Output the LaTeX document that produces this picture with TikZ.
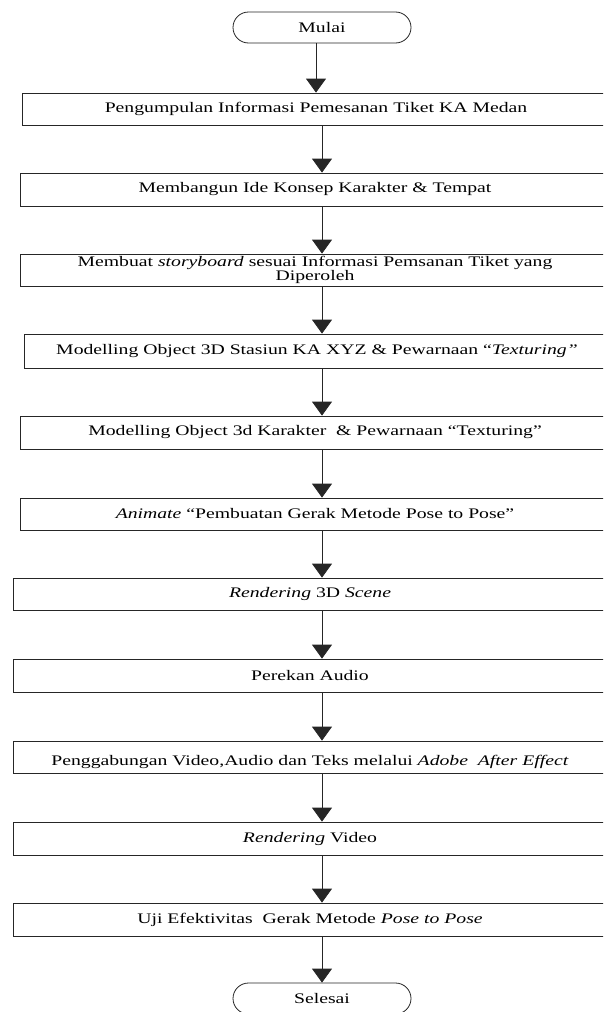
\documentclass[tikz,border=0pt]{standalone}
\usepackage{fontspec}
\setmainfont{Liberation Serif}[FakeStretch=1.35]
\usetikzlibrary{arrows.meta, shapes.misc}
\tikzstyle{proc} = [rectangle, draw=black!85, inner sep=0pt, align=center]
\tikzstyle{term} = [rounded rectangle, draw=black!85, minimum width=178pt, minimum height=31pt, inner sep=0pt]

\begin{document}
\begin{tikzpicture}[
    x=1pt, y=-1pt,
    line width=0.8pt,
    every node/.style={font=\fontsize{14.6}{14}\selectfont},
    box/.style 2 args={proc, minimum width=#1, minimum height=#2},
    arr/.style={draw=black!85, -{Triangle[length=14pt,width=20pt]}}
]
    \clip (0,0) rectangle (603,1012);
    \fill[white] (0,0) rectangle (603,1012);

    \node[term] (mulai) at (322,27.5) {Mulai};
    \node[box={588pt}{32pt}] (p1) at (316,109) {Pengumpulan Informasi Pemesanan Tiket KA Medan};
    \node[box={590pt}{33pt}] (p2) at (315,189.5) {Membangun Ide Konsep Karakter \& Tempat};
    \node[box={590pt}{32pt}] (p3) at (315,270) {Membuat \textit{storyboard} sesuai Informasi Pemsanan Tiket yang\\Diperoleh};
    \node[box={586pt}{34pt}] (p4) at (317,351) {Modelling Object 3D Stasiun KA XYZ \& Pewarnaan “\textit{Texturing”}};
    \node[box={590pt}{33pt}] (p5) at (315,432.5) {Modelling Object 3d Karakter~ \& Pewarnaan “Texturing”};
    \node[box={590pt}{32pt}] (p6) at (315,514) {\textit{Animate} “Pembuatan Gerak Metode Pose to Pose”};
    \node[box={594pt}{32pt}] (p7) at (310,594) {\textit{Rendering} 3D \textit{Scene}};
    \node[box={594pt}{33pt}] (p8) at (310,675.5) {Perekan Audio};
    \node[box={594pt}{32pt}] (p9) at (310,757) {\raisebox{-5pt}[9pt][3pt]{Penggabungan Video,Audio dan Teks melalui \textit{Adobe~ After Effect}}};
    \node[box={594pt}{33pt}] (p10) at (310,838.5) {\textit{Rendering} Video};
    \node[box={594pt}{33pt}] (p11) at (310,919.5) {Uji Efektivitas~ Gerak Metode \textit{Pose to Pose}};
    \node[term] (selesai) at (322,998.5) {Selesai};

    % arrows
    \coordinate (ax) at (322,0);
    \draw[arr] ([xshift=-6pt]mulai.south) -- ([xshift=-6pt]mulai.south |- p1.north);
    \foreach \a/\b in {p1/p2, p2/p3, p3/p4, p4/p5, p5/p6, p6/p7, p7/p8, p8/p9, p9/p10, p10/p11, p11/selesai}
        \draw[arr] (\a.south -| ax) -- (\b.north -| ax);
\end{tikzpicture}
\end{document}
